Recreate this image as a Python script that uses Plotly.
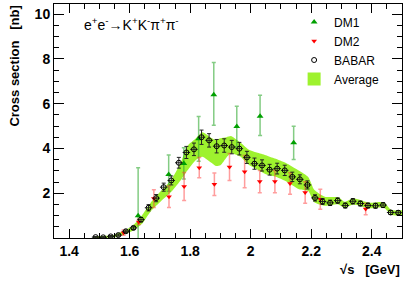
import plotly.graph_objects as go

# BABAR
babar_x = [1.4875, 1.5125, 1.5375, 1.5625, 1.5875, 1.6125, 1.6375, 1.6625, 1.6875, 1.7125,
           1.7375, 1.7625, 1.7875, 1.8125, 1.8375, 1.8625, 1.8875, 1.9125, 1.9375, 1.9625,
           1.9875, 2.0125, 2.0375, 2.0625, 2.0875, 2.1125, 2.1375, 2.1625, 2.1875, 2.2125,
           2.2375, 2.2625, 2.2875, 2.3125, 2.3375, 2.3625, 2.3875, 2.4125, 2.4375, 2.4625, 2.4875]
babar_y = [0.04, 0.03, 0.07, 0.13, 0.30, 0.45, 0.82, 1.35, 1.78, 2.27,
           2.57, 3.36, 3.82, 3.96, 4.50, 4.36, 4.10, 4.13, 4.06, 3.99,
           3.60, 3.32, 3.24, 3.05, 3.10, 3.02, 2.73, 2.62, 2.37, 1.79,
           1.63, 1.57, 1.67, 1.45, 1.64, 1.54, 1.45, 1.44, 1.47, 1.14, 1.13]
babar_err = [0.03, 0.03, 0.04, 0.05, 0.06, 0.07, 0.10, 0.14, 0.16, 0.18,
             0.20, 0.24, 0.27, 0.28, 0.32, 0.30, 0.30, 0.30, 0.30, 0.28,
             0.27, 0.25, 0.25, 0.24, 0.24, 0.23, 0.21, 0.20, 0.18, 0.14,
             0.13, 0.12, 0.12, 0.11, 0.12, 0.11, 0.11, 0.11, 0.11, 0.09, 0.09]
babar_xerr = 0.0125

# DM1
dm1_x = [1.628, 1.729, 1.779, 1.828, 1.878, 1.954, 2.031, 2.142]
dm1_y = [0.99, 2.84, 3.33, 4.43, 6.40, 4.98, 5.44, 4.25]
dm1_up = [2.15, 0.87, 0.70, 1.00, 1.44, 0.90, 0.93, 0.74]
dm1_dn = [1.50, 0.75, 0.70, 1.00, 1.36, 0.90, 0.86, 0.74]

# DM2
dm2_x = [1.58, 1.63, 1.68, 1.73, 1.78, 1.83, 1.88, 1.93, 1.98, 2.03, 2.08, 2.13, 2.18, 2.23, 2.38]
dm2_y = [0.24, 0.72, 1.76, 1.84, 2.30, 3.14, 2.40, 3.17, 2.96, 2.52, 2.52, 2.43, 2.03, 1.73, 1.29]
dm2_err = [0.12, 0.12, 0.40, 0.48, 0.62, 0.45, 0.50, 0.60, 0.72, 0.50, 0.50, 0.48, 0.48, 0.45, 0.25]

# Average band
avg_x = [1.48, 1.52, 1.55, 1.58, 1.61, 1.64, 1.67, 1.70, 1.74, 1.77, 1.79, 1.82, 1.84, 1.87,
         1.885, 1.90, 1.92, 1.935, 1.95, 1.967, 1.99, 2.02, 2.05, 2.08, 2.115, 2.16, 2.19,
         2.21, 2.245, 2.29, 2.31, 2.34, 2.39, 2.44, 2.465, 2.50]
avg_lo = [0.00, 0.00, 0.03, 0.15, 0.32, 0.62, 1.20, 1.60, 2.10, 2.60, 3.00, 3.50, 3.63, 3.36,
          3.22, 3.25, 3.60, 3.80, 3.73, 3.63, 3.30, 3.07, 2.85, 2.75, 2.55, 2.18, 2.10,
          1.60, 1.44, 1.50, 1.35, 1.50, 1.33, 1.35, 1.03, 1.02]
avg_hi = [0.08, 0.10, 0.15, 0.32, 0.55, 0.99, 1.58, 2.05, 2.65, 3.40, 4.10, 4.47, 4.72, 4.47,
          4.38, 4.45, 4.50, 4.55, 4.42, 4.25, 3.98, 3.82, 3.70, 3.55, 3.36, 3.00, 2.72,
          2.15, 1.84, 1.82, 1.62, 1.78, 1.58, 1.60, 1.25, 1.24]

x_ticks = [1.4, 1.6, 1.8, 2.0, 2.2, 2.4]
x_ticktext = ["1.4", "1.6", "1.8", "2", "2.2", "2.4"]
y_ticks = [2, 4, 6, 8, 10]

band_color = "#9ef22e"
FONT = "Liberation Sans, Arial, Helvetica, sans-serif"

fig = go.Figure()

fig.add_trace(go.Scatter(x=avg_x, y=avg_lo, mode="lines", line=dict(width=0, shape="spline", smoothing=0.6),
                         showlegend=False, hoverinfo="skip"))
fig.add_trace(go.Scatter(x=avg_x, y=avg_hi, mode="lines", line=dict(width=0, shape="spline", smoothing=0.6),
                         fill="tonexty", fillcolor=band_color, showlegend=False))

fig.add_trace(go.Scatter(x=dm1_x, y=dm1_y, mode="markers", name="DM1", legendrank=1,
                         marker=dict(symbol="triangle-up", size=6, color="#00a000"),
                         error_y=dict(type="data", array=dm1_up, arrayminus=dm1_dn,
                                      color="rgba(50,170,50,0.6)", thickness=1.5, width=2)))
fig.add_trace(go.Scatter(x=dm2_x, y=dm2_y, mode="markers", name="DM2", legendrank=2,
                         marker=dict(symbol="triangle-down", size=5, color="#ff0000"),
                         error_y=dict(type="data", array=dm2_err,
                                      color="rgba(255,60,60,0.5)", thickness=1.5, width=2)))
fig.add_trace(go.Scatter(x=babar_x, y=babar_y, mode="markers", name="BABAR", legendrank=3,
                         marker=dict(symbol="circle-open", size=5, color="black",
                                     line=dict(width=1, color="black")),
                         error_y=dict(type="data", array=babar_err, color="#222222",
                                      thickness=1, width=2),
                         error_x=dict(type="constant", value=babar_xerr, color="#222222",
                                      thickness=1, width=0)))
# legend-only entry for the average band
fig.add_trace(go.Scatter(x=[None], y=[None], mode="markers", name="Average", legendrank=4,
                         marker=dict(symbol="square", size=13, color=band_color)))

fig.add_annotation(text="e<sup>+</sup>e<sup>-</sup>→K<sup>+</sup>K<sup>-</sup>π<sup>+</sup>π<sup>-</sup>",
                   xref="paper", yref="paper", x=0.08, y=0.915, xanchor="left", yanchor="middle",
                   showarrow=False, font=dict(family=FONT, size=14, color="black"))
fig.add_annotation(text="<b>Cross section   [nb]</b>", textangle=-90,
                   xref="paper", yref="paper", x=-0.142, y=1.0, xanchor="left", yanchor="top",
                   showarrow=False, font=dict(family=FONT, size=13, color="black"))
fig.add_annotation(text="<b>√s   [GeV]</b>",
                   xref="paper", yref="paper", x=1.0, y=-0.135, xanchor="right", yanchor="middle",
                   showarrow=False, font=dict(family=FONT, size=13, color="black"))

fig.update_layout(
    width=415, height=281,
    margin=dict(l=54, r=13, t=4, b=43),
    plot_bgcolor="white", paper_bgcolor="white",
    font=dict(family=FONT, color="black"),
    showlegend=True, hovermode=False,
    legend=dict(x=0.69, y=0.985, xanchor="left", yanchor="top", bgcolor="rgba(0,0,0,0)",
                traceorder="normal",
                font=dict(family=FONT, size=12, color="black"), itemwidth=30,
                tracegroupgap=0),
    xaxis=dict(range=[1.35, 2.5], tickmode="array", tickvals=x_ticks, ticktext=x_ticktext,
               ticks="inside", ticklen=9, tickwidth=1, tickcolor="black",
               showline=True, linecolor="black", linewidth=1, mirror="ticks",
               showgrid=False, zeroline=False,
               tickfont=dict(family=FONT, size=14, color="black", weight="bold"),
               minor=dict(tickmode="linear", tick0=1.35, dtick=0.05, ticks="inside",
                          ticklen=5, tickcolor="black", showgrid=False)),
    yaxis=dict(range=[0, 10.45], tickmode="array", tickvals=y_ticks,
               ticks="inside", ticklen=10, tickwidth=1, tickcolor="black",
               showline=True, linecolor="black", linewidth=1, mirror="ticks",
               showgrid=False, zeroline=False,
               tickfont=dict(family=FONT, size=14, color="black", weight="bold"),
               minor=dict(tickmode="linear", tick0=0, dtick=0.5, ticks="inside",
                          ticklen=5, tickcolor="black", showgrid=False)),
)

fig.write_html("out.html", config={"displayModeBar": False},
               post_script="document.body.style.margin='0px';")
